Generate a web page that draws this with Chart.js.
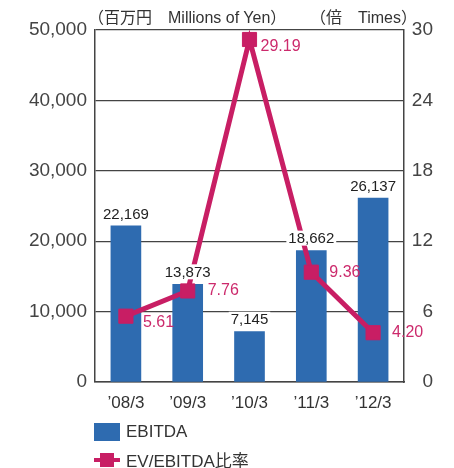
<!DOCTYPE html>
<html>
<head>
<meta charset="utf-8">
<script src="https://cdn.jsdelivr.net/npm/chart.js@4"></script>
<style>
  body { margin: 0; background: #fff; }
  #wrap { position: relative; width: 454px; height: 468px; font-family: "Liberation Sans", "Noto Sans CJK JP", sans-serif; color: #333; }
  canvas { position: absolute; left: 0; top: 0; }
  .unit { position: absolute; top: 4px; font-size: 16px; white-space: nowrap; }
  .legend { position: absolute; left: 94px; font-size: 17px; display: flex; align-items: center; }
  .box { width: 26px; height: 18px; background: #2e6bb0; margin-right: 6px; }
  .lineIcon { position: relative; width: 26px; height: 18px; margin-right: 6px; }
  .lineIcon .l { position: absolute; left: 0; top: 7px; width: 26px; height: 4px; background: #c81e64; }
  .lineIcon .m { position: absolute; left: 6px; top: 2px; width: 14px; height: 14px; background: #c81e64; }
</style>
</head>
<body>
<div id="wrap">
  <canvas id="chart" width="454" height="468"></canvas>
  <div class="unit" style="left:88px">（百万円　Millions of Yen）</div>
  <div class="unit" style="left:310px">（倍　Times）</div>
  <div class="legend" style="top:422px"><div class="box"></div>EBITDA</div>
  <div class="legend" style="top:447px"><div class="lineIcon"><div class="l"></div><div class="m"></div></div>EV/EBITDA比率</div>
</div>
<script>
const years = ["’08/3", "’09/3", "’10/3", "’11/3", "’12/3"];
const ebitda = [22169, 13873, 7145, 18662, 26137];
const evRatio = [5.61, 7.76, 29.19, 9.36, 4.20];
const leftTicks = [0, 10000, 20000, 30000, 40000, 50000];
const rightTicks = [0, 6, 12, 18, 24, 30];

const blue = "#2e6bb0";
const pink = "#c81e64";
const gray = "#444";

// where the ratio labels sit next to each marker
const ratioLabelDx = [17, 20, 11, 18, 19];
const ratioLabelDy = [6, 0, 7, 0, 0];

const valueLabels = {
    id: "valueLabels",
    afterDatasetsDraw(chart) {
        const ctx = chart.ctx;
        const bars = chart.getDatasetMeta(1).data;
        const pts = chart.getDatasetMeta(0).data;
        ctx.save();
        ctx.font = '15px "Liberation Sans", sans-serif';

        // bar values, white behind so grid and line are cut out
        ctx.textAlign = "center";
        ctx.textBaseline = "bottom";
        bars.forEach((bar, i) => {
            const text = ebitda[i].toLocaleString("en-US");
            const w = ctx.measureText(text).width;
            ctx.fillStyle = "#fff";
            ctx.fillRect(bar.x - w / 2 - 2, bar.y - 20, w + 4, 15);
            ctx.fillStyle = "#222";
            ctx.fillText(text, bar.x, bar.y - 4);
        });

        ctx.font = '16px "Liberation Sans", sans-serif';
        ctx.fillStyle = "#cc2a6c";
        ctx.textAlign = "left";
        ctx.textBaseline = "middle";
        pts.forEach((p, i) => {
            ctx.fillText(evRatio[i].toFixed(2), p.x + ratioLabelDx[i], p.y + ratioLabelDy[i]);
        });
        ctx.restore();
    }
};

new Chart(document.getElementById("chart"), {
    data: {
        labels: years,
        datasets: [
            {
                type: "line",
                label: "EV/EBITDA比率",
                data: evRatio,
                yAxisID: "yr",
                borderColor: pink,
                backgroundColor: pink,
                borderWidth: 5,
                pointStyle: "rect",
                pointRadius: 10,
                pointBorderWidth: 1,
                tension: 0,
                order: 0
            },
            {
                type: "bar",
                label: "EBITDA",
                data: ebitda,
                yAxisID: "y",
                backgroundColor: blue,
                barThickness: 30,
                order: 1
            }
        ]
    },
    options: {
        responsive: false,
        animation: false,
        layout: { padding: { top: 30, left: 0, right: 21, bottom: 0 } },
        plugins: { legend: { display: false }, tooltip: { enabled: false } },
        scales: {
            x: {
                grid: { display: false, drawTicks: false },
                border: { color: gray, width: 1.5 },
                ticks: { color: "#333", padding: 11, font: { family: "Liberation Sans", size: 17 } },
                afterFit(s) { s.height = 86; }
            },
            y: {
                position: "left",
                min: 0,
                max: 50000,
                afterBuildTicks(s) { s.ticks = leftTicks.map(v => ({ value: v })); },
                grid: { color: gray, lineWidth: 1.2, drawTicks: false },
                border: { color: gray, width: 1.5 },
                ticks: {
                    color: gray,
                    padding: 8,
                    font: { family: "Liberation Sans", size: 19 },
                    callback: v => v.toLocaleString("en-US")
                },
                afterFit(s) { s.width = 95; }
            },
            yr: {
                position: "right",
                min: 0,
                max: 30,
                afterBuildTicks(s) { s.ticks = rightTicks.map(v => ({ value: v })); },
                grid: { display: false, drawTicks: false },
                border: { color: gray, width: 1.5 },
                ticks: {
                    color: gray,
                    padding: 5,
                    crossAlign: "far",
                    font: { family: "Liberation Sans", size: 19 }
                },
                afterFit(s) { s.width = 29; }
            }
        }
    },
    plugins: [valueLabels]
});
</script>
</body>
</html>
